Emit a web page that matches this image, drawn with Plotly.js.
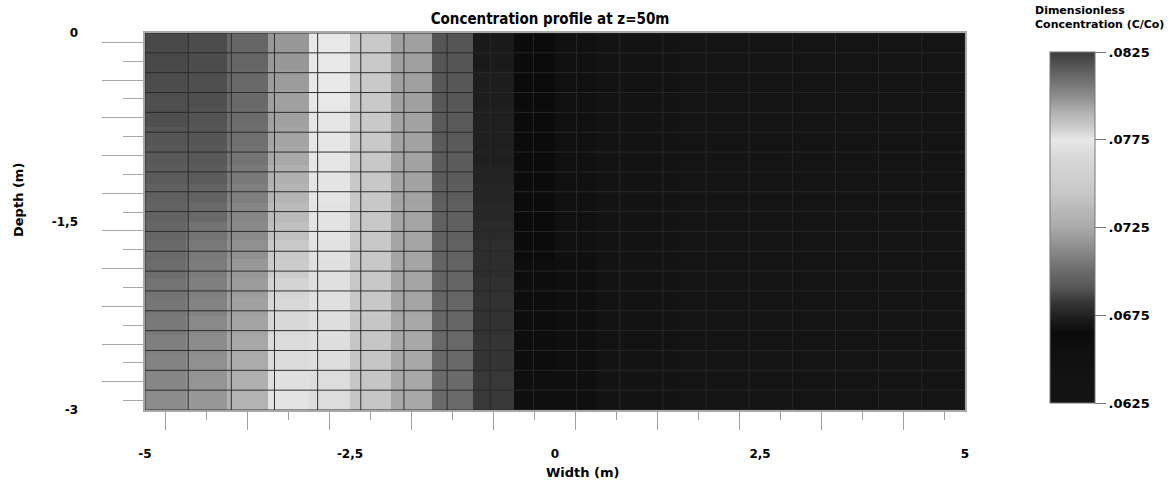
<!DOCTYPE html>
<html>
<head>
<meta charset="utf-8">
<script src="https://cdn.plot.ly/plotly-3.0.1.min.js"></script>
<style>
  html, body { margin: 0; padding: 0; background: #ffffff; }
  #chart { width: 1175px; height: 483px; }
</style>
</head>
<body>
<div id="chart"></div>
<script>
// ---------------- DATA ----------------
const chartTitle = "Concentration profile at z=50m";
const xTitle = "Width (m)";
const yTitle = "Depth (m)";
const cbTitle = "Dimensionless<br>Concentration (C/Co)";

// cell centres of the concentration grid (m)
const widthCentres = [-4.75, -4.25, -3.75, -3.25, -2.75, -2.25, -1.75, -1.25, -0.75, -0.25,
                       0.25,  0.75,  1.25,  1.75,  2.25,  2.75,  3.25,  3.75,  4.25,  4.75];
const depthCentres = [-0.075, -0.225, -0.375, -0.525, -0.675, -0.825, -0.975, -1.125, -1.275, -1.425,
                      -1.575, -1.725, -1.875, -2.025, -2.175, -2.325, -2.475, -2.625, -2.775, -2.925];

// dimensionless concentration C/Co, one array per width column (top -> bottom)
const colW475m = [.0821,.0821,.0820,.0819,.0819,.0817,.0816,.0815,.0814,.0813,.0812,.0811,.0810,.0808,.0807,.0806,.0804,.0803,.0802,.0800];
const colW425m = [.0820,.0820,.0819,.0819,.0818,.0817,.0816,.0815,.0813,.0811,.0808,.0806,.0805,.0804,.0803,.0801,.0800,.0799,.0798,.0797];
const colW375m = [.0812,.0812,.0811,.0811,.0810,.0809,.0808,.0806,.0804,.0802,.0801,.0799,.0797,.0796,.0795,.0794,.0793,.0792,.0791,.0790];
const colW325m = [.0797,.0797,.0796,.0795,.0795,.0794,.0793,.0791,.0790,.0788,.0786,.0783,.0782,.0780,.0779,.0779,.0778,.0778,.0777,.0776];
const colW275m = [.0775,.0775,.0775,.0775,.0774,.0774,.0774,.0773,.0773,.0772,.0772,.0771,.0770,.0770,.0770,.0769,.0769,.0769,.0768,.0768];
const colW225m = [.0746,.0746,.0746,.0746,.0746,.0746,.0745,.0745,.0745,.0745,.0745,.0745,.0745,.0745,.0745,.0744,.0744,.0744,.0744,.0744];
const colW175m = [.0721,.0721,.0721,.0721,.0722,.0722,.0722,.0722,.0722,.0723,.0723,.0723,.0723,.0723,.0723,.0724,.0724,.0724,.0724,.0724];
const colW125m = [.0690,.0690,.0691,.0691,.0692,.0692,.0693,.0693,.0694,.0695,.0695,.0696,.0697,.0697,.0698,.0698,.0699,.0699,.0700,.0700];
const colW075m = [.0672,.0672,.0673,.0673,.0674,.0674,.0674,.0675,.0676,.0677,.0678,.0679,.0679,.0680,.0681,.0681,.0682,.0682,.0683,.0683];
const colW025m = [.0665,.0665,.0665,.0665,.0665,.0665,.0665,.0665,.0665,.0665,.0665,.0665,.0666,.0666,.0666,.0666,.0666,.0666,.0667,.0667];
const colW025p = [.0651,.0651,.0651,.0652,.0652,.0652,.0652,.0652,.0653,.0653,.0653,.0653,.0654,.0654,.0654,.0654,.0655,.0655,.0655,.0655];
const colW075p = [.0640,.0640,.0640,.0640,.0640,.0640,.0640,.0640,.0640,.0640,.0641,.0641,.0641,.0641,.0641,.0641,.0641,.0641,.0641,.0641];
const colW125p = [.0633,.0633,.0633,.0633,.0633,.0633,.0633,.0633,.0633,.0633,.0633,.0633,.0633,.0633,.0633,.0633,.0633,.0633,.0633,.0633];
const colW175p = [.0631,.0631,.0631,.0631,.0631,.0631,.0631,.0631,.0631,.0631,.0631,.0631,.0631,.0631,.0631,.0631,.0631,.0631,.0631,.0631];
const colW225p = [.0630,.0630,.0630,.0630,.0630,.0630,.0630,.0630,.0630,.0630,.0630,.0630,.0630,.0630,.0630,.0630,.0630,.0630,.0630,.0630];
const colW275p = [.0629,.0629,.0629,.0629,.0629,.0629,.0629,.0629,.0629,.0629,.0629,.0629,.0629,.0629,.0629,.0629,.0629,.0629,.0629,.0629];
const colW325p = [.0628,.0628,.0628,.0628,.0628,.0628,.0628,.0628,.0628,.0628,.0628,.0628,.0628,.0628,.0628,.0628,.0628,.0628,.0628,.0628];
const colW375p = [.0627,.0627,.0627,.0627,.0627,.0627,.0627,.0627,.0627,.0627,.0627,.0627,.0627,.0627,.0627,.0627,.0627,.0627,.0627,.0627];
const colW425p = [.0627,.0627,.0627,.0627,.0627,.0627,.0627,.0627,.0627,.0627,.0627,.0627,.0627,.0627,.0627,.0627,.0627,.0627,.0627,.0627];
const colW475p = [.0626,.0626,.0626,.0626,.0626,.0626,.0626,.0626,.0626,.0626,.0626,.0626,.0626,.0626,.0626,.0626,.0626,.0626,.0626,.0626];

// colour bar ticks
const cbTickVals = [0.0625, 0.0675, 0.0725, 0.0775, 0.0825];
const cbTickText = [".0625", ".0675", ".0725", ".0775", ".0825"];

// axis labels
const xLabelVals = [-5, -2.5, 0, 2.5, 5];
const xLabelText = ["-5", "-2,5", "0", "2,5", "5"];
const yLabelVals = [0, -1.5, -3];
const yLabelText = ["0", "-1,5", "-3"];

// model mesh: 19 x 19 elements over the section
const meshElemX = 19, meshElemY = 19;

// ---------------- BUILD ----------------
const columns = [colW475m, colW425m, colW375m, colW325m, colW275m, colW225m, colW175m, colW125m, colW075m, colW025m,
                 colW025p, colW075p, colW125p, colW175p, colW225p, colW275p, colW325p, colW375p, colW425p, colW475p];
const z = depthCentres.map((_, r) => columns.map(c => c[r]));

const zmin = 0.0625, zmax = 0.0825;
function stop(v, col) { return [(v - zmin) / (zmax - zmin), col]; }
const colorscale = [
  stop(0.0625, '#141414'),
  stop(0.0640, '#131313'),
  stop(0.0655, '#0f0f0f'),
  stop(0.0665, '#0b0b0b'),
  stop(0.0672, '#1a1a1a'),
  stop(0.0675, '#222222'),
  stop(0.0683, '#383838'),
  stop(0.0690, '#555555'),
  stop(0.0700, '#6a6a6a'),
  stop(0.0712, '#8a8a8a'),
  stop(0.0725, '#aaaaaa'),
  stop(0.0745, '#c8c8c8'),
  stop(0.0765, '#d8d8d8'),
  stop(0.0775, '#e8e8e8'),
  stop(0.0782, '#cccccc'),
  stop(0.0790, '#b4b4b4'),
  stop(0.0800, '#8c8c8c'),
  stop(0.0812, '#666666'),
  stop(0.0825, '#3c3c3c')
];

const xr = [-5, 5], yr = [-3, 0];
const meshX = [], meshY = [];
for (let i = 0; i <= meshElemX; i++) {
  const xv = xr[0] + (xr[1] - xr[0]) * i / meshElemX;
  meshX.push(xv, xv, null); meshY.push(yr[0], yr[1], null);
}
for (let j = 0; j <= meshElemY; j++) {
  const yv = yr[1] - (yr[1] - yr[0]) * j / meshElemY;
  meshX.push(xr[0], xr[1], null); meshY.push(yv, yv, null);
}

const fam = 'DejaVu Sans, Verdana, sans-serif';
const tickFont = { family: fam, size: 12, color: '#000', weight: 'bold' };
const axisTitleFont = { family: fam, size: 13, color: '#000', weight: 'bold' };

const heat = {
  type: 'heatmap',
  x: widthCentres, y: depthCentres, z: z,
  zmin: zmin, zmax: zmax, zsmooth: false,
  colorscale: colorscale,
  hoverinfo: 'x+y+z',
  colorbar: {
    thickness: 45, thicknessmode: 'pixels',
    len: 351, lenmode: 'pixels',
    x: (1050 - 145) / 820, xanchor: 'left', xpad: 0,
    y: (410 - 52) / 377, yanchor: 'top', ypad: 0,
    outlinewidth: 1, outlinecolor: '#777',
    ticks: 'outside', ticklen: 11, tickwidth: 1, tickcolor: '#777',
    tickmode: 'array', tickvals: cbTickVals, ticktext: cbTickText,
    tickfont: { family: fam, size: 13, color: '#000', weight: 'bold' },
    title: { text: '' }
  }
};

const mesh = {
  type: 'scatter', mode: 'lines',
  x: meshX, y: meshY,
  xaxis: 'x2', yaxis: 'y2',
  line: { color: 'rgba(40,40,40,0.95)', width: 1 },
  hoverinfo: 'skip', showlegend: false
};

const layout = {
  width: 1175, height: 483,
  margin: { l: 145, r: 210, t: 33, b: 73, pad: 0 },
  paper_bgcolor: '#ffffff', plot_bgcolor: '#ffffff',
  showlegend: false,
  title: {
    text: chartTitle,
    font: { family: 'Liberation Sans Narrow, DejaVu Sans Condensed, Arial Narrow, sans-serif', size: 15, color: '#000', weight: 'bold' },
    x: 550 / 1175, xanchor: 'center', xref: 'container',
    y: 1 - 19 / 483, yanchor: 'middle', yref: 'container'
  },
  xaxis: {
    range: xr, fixedrange: true,
    showgrid: false, zeroline: false,
    showline: true, mirror: true, linecolor: '#a8a8a8', linewidth: 2,
    tickmode: 'linear', tick0: -4.75, dtick: 1,
    ticks: 'outside', ticklen: 18, tickwidth: 1, tickcolor: '#a0a0a0',
    showticklabels: false,
    minor: { tickmode: 'linear', tick0: -4.25, dtick: 1, ticks: 'outside', ticklen: 8, tickwidth: 1, tickcolor: '#a0a0a0', showgrid: false }
  },
  yaxis: {
    range: yr, fixedrange: true,
    showgrid: false, zeroline: false,
    showline: true, mirror: true, linecolor: '#a8a8a8', linewidth: 2,
    tickmode: 'linear', tick0: -0.075, dtick: 0.3,
    ticks: 'outside', ticklen: 41, tickwidth: 1, tickcolor: '#a8a8a8',
    showticklabels: false,
    minor: { tickmode: 'linear', tick0: -0.225, dtick: 0.3, ticks: 'outside', ticklen: 20, tickwidth: 1, tickcolor: '#a8a8a8', showgrid: false }
  },
  xaxis2: {
    range: xr, fixedrange: true, overlaying: 'x', anchor: 'y2', side: 'bottom',
    showgrid: false, zeroline: false, showline: false, ticks: '',
    tickmode: 'array', tickvals: xLabelVals, ticktext: xLabelText,
    tickfont: tickFont, ticklabelstandoff: 35
  },
  yaxis2: {
    range: yr, fixedrange: true, overlaying: 'y', anchor: 'x2', side: 'left',
    showgrid: false, zeroline: false, showline: false, ticks: '',
    tickmode: 'array', tickvals: yLabelVals, ticktext: yLabelText,
    tickfont: tickFont, ticklabelstandoff: 66
  },
  annotations: [
    { text: xTitle, xref: 'paper', yref: 'paper', x: (583 - 145) / 820, y: (410 - 472) / 377,
      xanchor: 'center', yanchor: 'middle', showarrow: false, font: axisTitleFont },
    { text: yTitle, xref: 'paper', yref: 'paper', x: (18 - 145) / 820, y: (410 - 200) / 377,
      xanchor: 'center', yanchor: 'middle', showarrow: false, textangle: -90, font: axisTitleFont },
    { text: cbTitle, xref: 'paper', yref: 'paper', x: (1033 - 145) / 820, y: (410 - 2) / 377,
      xanchor: 'left', yanchor: 'top', align: 'left', showarrow: false,
      font: { family: fam, size: 11, color: '#000', weight: 'bold' } }
  ]
};

Plotly.newPlot('chart', [heat, mesh], layout, { staticPlot: true, displayModeBar: false });
</script>
</body>
</html>
